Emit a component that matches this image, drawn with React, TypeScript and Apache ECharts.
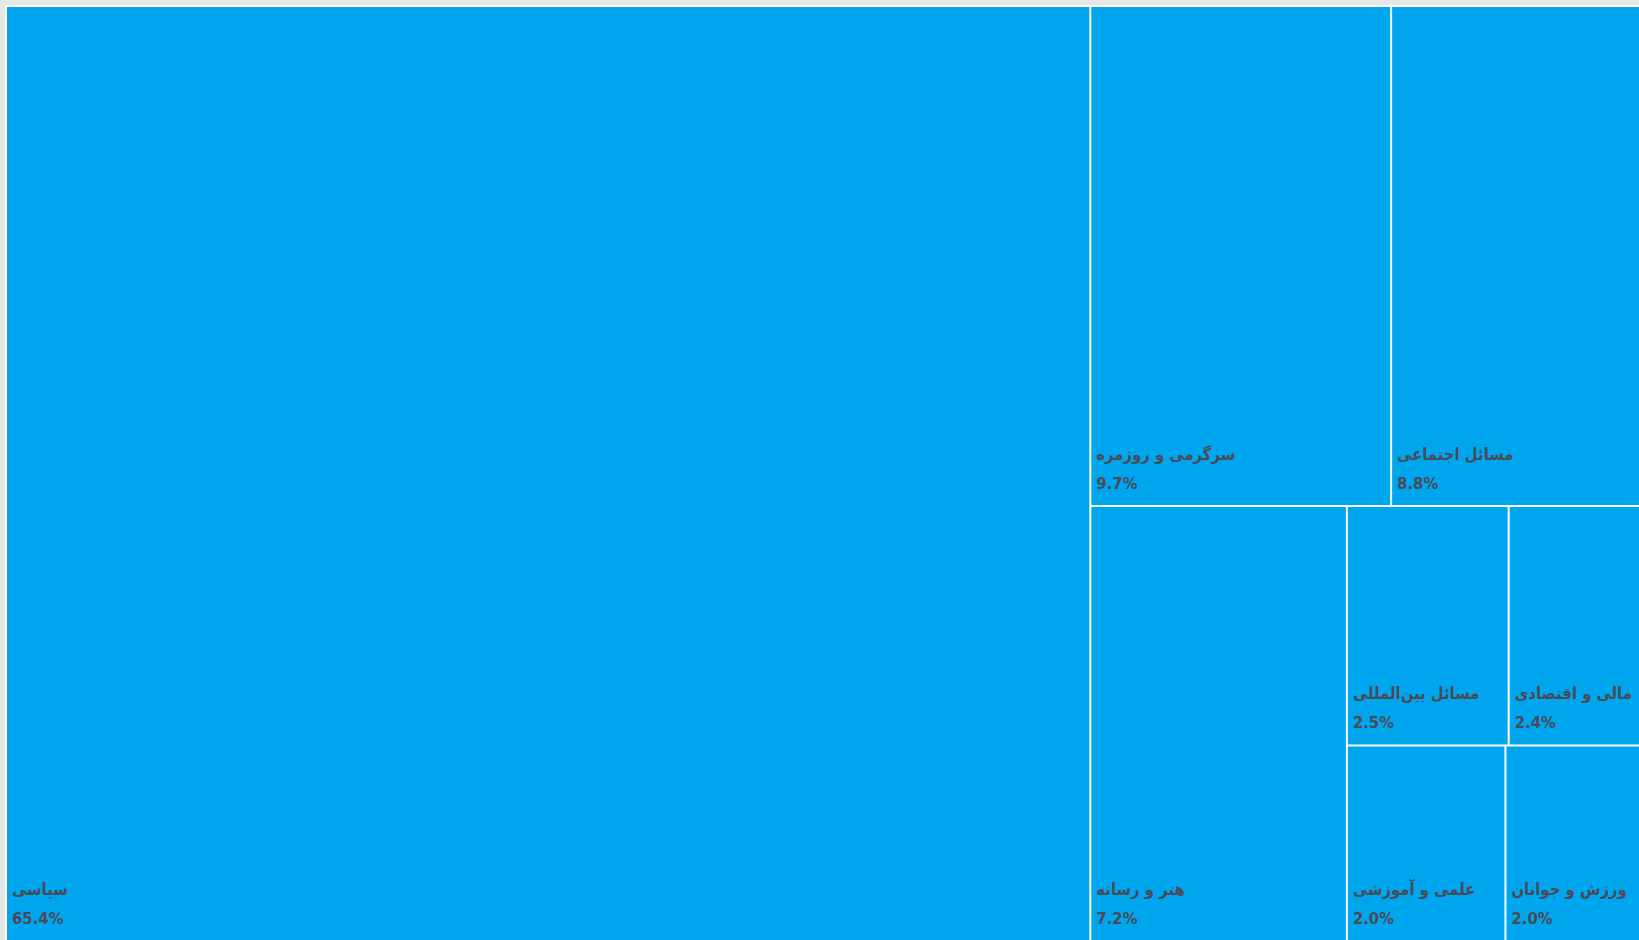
import React, { useEffect, useRef } from "react";
import * as echarts from "echarts";

const categories: string[] = [
  "سیاسی",
  "سرگرمی و روزمره",
  "مسائل اجتماعی",
  "هنر و رسانه",
  "مسائل بین‌المللی",
  "مالی و اقتصادی",
  "علمی و آموزشی",
  "ورزش و جوانان",
];

const shares: number[] = [65.4, 9.7, 8.8, 7.2, 2.5, 2.4, 2.0, 2.0];

const BLUE = "#00A6ED";
const TEXT = "#4a4a58";

export default function App() {
  const ref = useRef<HTMLDivElement>(null);

  useEffect(() => {
    document.body.style.margin = "0";
    document.body.style.overflow = "hidden";
    document.body.style.background = "#e6e6e6";
    const chart = echarts.init(ref.current!, null, { renderer: "svg" });
    const data = categories.map((name, i) => ({
      name,
      value: shares[i],
      itemStyle: { color: BLUE },
    }));
    chart.setOption({
      animation: false,
      tooltip: { show: false },
      series: [
        {
          type: "treemap",
          left: 0,
          top: 0,
          width: "100%",
          height: "100%",
          roam: false,
          nodeClick: false,
          squareRatio: 1,
          breadcrumb: { show: false },
          sort: false,
          data,
          levels: [
            {
              color: [BLUE],
              itemStyle: {
                borderWidth: 2,
                borderColor: "#ffffff",
                gapWidth: 2,
              },
            },
          ],
          itemStyle: {
            color: BLUE,
            borderWidth: 0,
          },
          label: {
            show: true,
            position: "insideBottomLeft",
            distance: 5,
            padding: [0, 0, 2, 0],
            color: TEXT,
            fontFamily: "DejaVu Sans Condensed",
            fontWeight: "bold",
            fontSize: 16.5,
            lineHeight: 29,
            formatter: (p: any) => `${p.name}\n${Number(p.value).toFixed(1)}%`,
          },
        },
      ],
    });
    return () => chart.dispose();
  }, []);

  return (
    <div
      ref={ref}
      style={{
        position: "absolute",
        left: 5,
        top: 5,
        width: 1660,
        height: 937,
        background: "#ffffff",
      }}
    />
  );
}
